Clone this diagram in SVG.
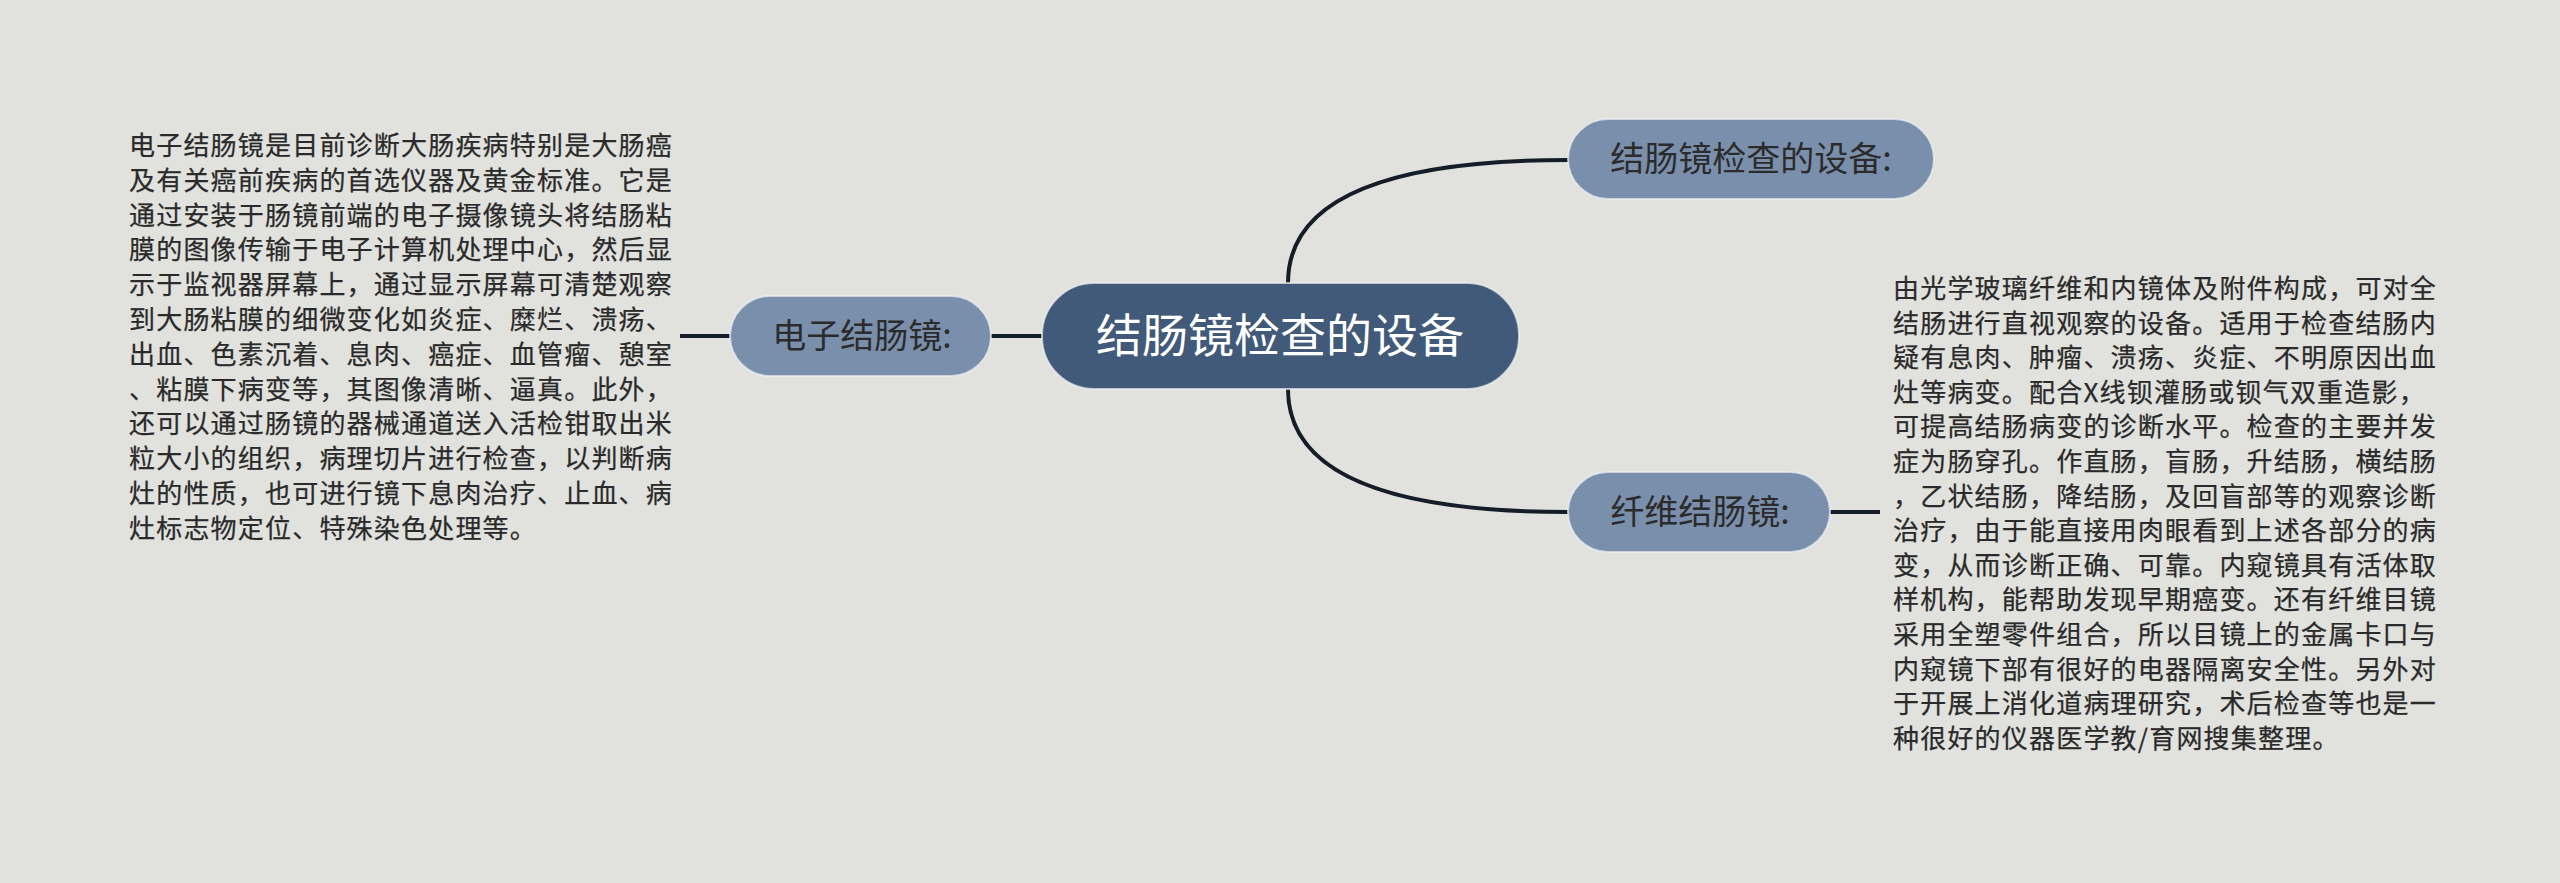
<svg xmlns="http://www.w3.org/2000/svg" width="2560" height="883" viewBox="0 0 2560 883">
<style>
.bg{fill:#e1e2dd}
.sub{fill:#7a8fac;stroke:#eef0f2;stroke-opacity:.7;stroke-width:2}
.root{fill:#415a79;stroke:#eef0f2;stroke-opacity:.7;stroke-width:2}
.lbl{font-family:"Noto Sans CJK SC","Noto Sans",sans-serif;font-size:34px;fill:#2b2b2b;text-anchor:middle}
.rlbl{font-family:"Noto Sans CJK SC","Noto Sans",sans-serif;font-size:46px;fill:#ffffff;text-anchor:middle}
.body{font-family:"Noto Sans CJK SC","Noto Sans",sans-serif;font-size:26px;fill:#2a2a2a;letter-spacing:1.2px;stroke:#2a2a2a;stroke-width:0.25px}
.con{fill:none;stroke:#141d28;stroke-width:4;stroke-linecap:butt}
</style>
<rect class="bg" x="0" y="0" width="2560" height="883"/>
<g id="connectors">
<path class="con" d="M1288,283 Q1288,160 1568,160"/>
<path class="con" d="M1288,389 Q1288,512 1568,512"/>
<path class="con" d="M1042,336 L991,336"/>
<path class="con" d="M730,336 L680,336"/>
<path class="con" d="M1830,512 L1880,512"/>
</g>
<g id="root">
<rect class="root" x="1042" y="283" width="477" height="106" rx="52" ry="52"/>
<text class="rlbl" x="1280" y="352">结肠镜检查的设备</text>
</g>
<g id="node-top">
<rect class="sub" x="1568" y="119" width="366" height="80" rx="40" ry="40"/>
<text class="lbl" x="1751" y="171">结肠镜检查的设备:</text>
</g>
<g id="node-left">
<rect class="sub" x="730" y="296" width="261" height="80" rx="40" ry="40"/>
<text class="lbl" x="862" y="348">电子结肠镜:</text>
</g>
<g id="node-bottom">
<rect class="sub" x="1568" y="472" width="262" height="80" rx="40" ry="40"/>
<text class="lbl" x="1700" y="524">纤维结肠镜:</text>
</g>
<g id="text-left">
<text class="body" x="129" y="155">
<tspan x="129" dy="0">电子结肠镜是目前诊断大肠疾病特别是大肠癌</tspan>
<tspan x="129" dy="34.8">及有关癌前疾病的首选仪器及黄金标准。它是</tspan>
<tspan x="129" dy="34.8">通过安装于肠镜前端的电子摄像镜头将结肠粘</tspan>
<tspan x="129" dy="34.8">膜的图像传输于电子计算机处理中心，然后显</tspan>
<tspan x="129" dy="34.8">示于监视器屏幕上，通过显示屏幕可清楚观察</tspan>
<tspan x="129" dy="34.8">到大肠粘膜的细微变化如炎症、糜烂、溃疡、</tspan>
<tspan x="129" dy="34.8">出血、色素沉着、息肉、癌症、血管瘤、憩室</tspan>
<tspan x="129" dy="34.8">、粘膜下病变等，其图像清晰、逼真。此外，</tspan>
<tspan x="129" dy="34.8">还可以通过肠镜的器械通道送入活检钳取出米</tspan>
<tspan x="129" dy="34.8">粒大小的组织，病理切片进行检查，以判断病</tspan>
<tspan x="129" dy="34.8">灶的性质，也可进行镜下息肉治疗、止血、病</tspan>
<tspan x="129" dy="34.8">灶标志物定位、特殊染色处理等。</tspan>
</text>
</g>
<g id="text-right">
<text class="body" x="1893" y="298">
<tspan x="1893" dy="0">由光学玻璃纤维和内镜体及附件构成，可对全</tspan>
<tspan x="1893" dy="34.6">结肠进行直视观察的设备。适用于检查结肠内</tspan>
<tspan x="1893" dy="34.6">疑有息肉、肿瘤、溃疡、炎症、不明原因出血</tspan>
<tspan x="1893" dy="34.6">灶等病变。配合X线钡灌肠或钡气双重造影，</tspan>
<tspan x="1893" dy="34.6">可提高结肠病变的诊断水平。检查的主要并发</tspan>
<tspan x="1893" dy="34.6">症为肠穿孔。作直肠，盲肠，升结肠，横结肠</tspan>
<tspan x="1893" dy="34.6">，乙状结肠，降结肠，及回盲部等的观察诊断</tspan>
<tspan x="1893" dy="34.6">治疗，由于能直接用肉眼看到上述各部分的病</tspan>
<tspan x="1893" dy="34.6">变，从而诊断正确、可靠。内窥镜具有活体取</tspan>
<tspan x="1893" dy="34.6">样机构，能帮助发现早期癌变。还有纤维目镜</tspan>
<tspan x="1893" dy="34.6">采用全塑零件组合，所以目镜上的金属卡口与</tspan>
<tspan x="1893" dy="34.6">内窥镜下部有很好的电器隔离安全性。另外对</tspan>
<tspan x="1893" dy="34.6">于开展上消化道病理研究，术后检查等也是一</tspan>
<tspan x="1893" dy="34.6">种很好的仪器医学教/育网搜集整理。</tspan>
</text>
</g>
</svg>
